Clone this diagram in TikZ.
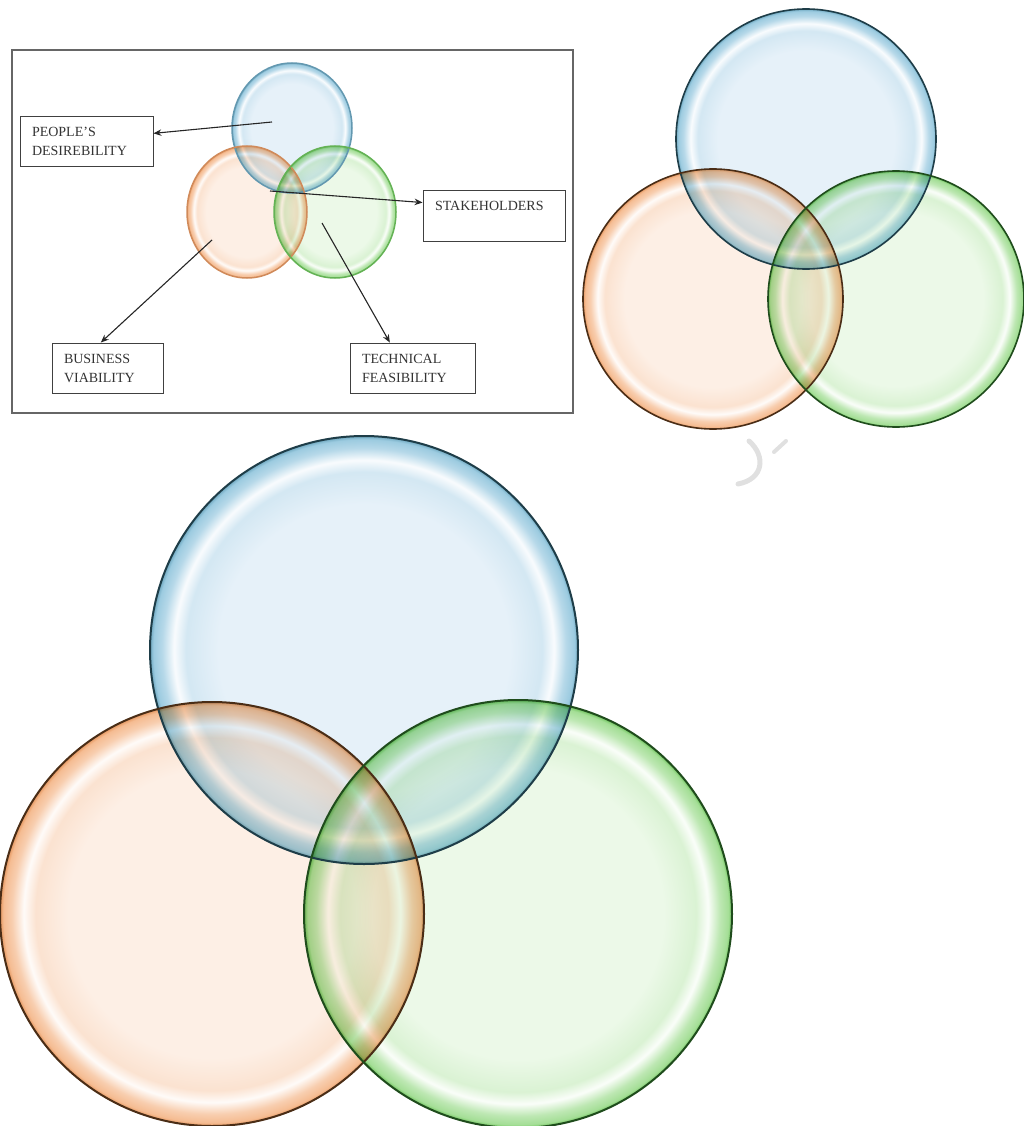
\documentclass[tikz,border=0pt]{standalone}
\usepackage{fontspec}
\setmainfont{Liberation Serif}
\usetikzlibrary{arrows.meta,calc}
\colorlet{bubA}{white}\colorlet{bubB}{white}\colorlet{bubC}{white}
\pgfdeclareradialshading[bubA,bubB,bubC]{bubble}{\pgfpointorigin}{color(0bp)=(bubA); color(17bp)=(bubA); color(20.8bp)=(bubA!75!bubB); color(22.2bp)=(white!75!bubA); color(23.6bp)=(bubA!35!bubB); color(24.6bp)=(bubB); color(25bp)=(bubC); color(50bp)=(bubC)}
\newcommand\bubset[3]{\colorlet{bubA}{#1}\colorlet{bubB}{#2}\colorlet{bubC}{#3}}
\definecolor{bA}{HTML}{E6F1F9}\definecolor{bB}{HTML}{9CCBE0}\definecolor{bC}{HTML}{6FA8C0}
\definecolor{oA}{HTML}{FDEFE5}\definecolor{oB}{HTML}{F5BC92}\definecolor{oC}{HTML}{E59760}
\definecolor{gA}{HTML}{ECF9E8}\definecolor{gB}{HTML}{A4DE96}\definecolor{gC}{HTML}{6CC25A}
\definecolor{bO}{HTML}{1E3D48}\definecolor{oO}{HTML}{4A2D16}\definecolor{gO}{HTML}{1F4C1C}
\definecolor{bS}{HTML}{6398B0}\definecolor{oS}{HTML}{D08A5A}\definecolor{gS}{HTML}{64B255}
\begin{document}
\begin{tikzpicture}[x=1pt,y=-1pt,
  bub/.style={shading=bubble, blend mode=multiply},
  lbl/.style={draw=black!75, line width=0.9pt, minimum height=50pt, align=left,
    text=black!80, font=\fontsize{14}{19}\selectfont, inner xsep=12pt, inner ysep=0pt},
  arr/.style={draw=black!85, line width=1.1pt, -{Stealth[length=8pt,width=6.5pt]}}]
\useasboundingbox (0,0) rectangle (1023,1126);

% ---------- bottom large Venn ----------
\bubset{bA}{bB}{bC}\shade[bub] (364,650) circle (214pt);
\bubset{oA}{oB}{oC}\shade[bub] (212,914) circle (212pt);
\bubset{gA}{gB}{gC}\shade[bub] (518,914) circle (214pt);
\draw[bO, line width=2pt] (364,650) circle (214pt);
\draw[oO, line width=2pt] (212,914) circle (212pt);
\draw[gO, line width=2pt] (518,914) circle (214pt);

% ---------- top right Venn ----------
\bubset{bA}{bB}{bC}\shade[bub] (806,139) circle (130pt);
\bubset{oA}{oB}{oC}\shade[bub] (713,299) circle (130pt);
\bubset{gA}{gB}{gC}\shade[bub] (896,299) circle (128pt);
\draw[bO, line width=1.6pt] (806,139) circle (130pt);
\draw[oO, line width=1.6pt] (713,299) circle (130pt);
\draw[gO, line width=1.6pt] (896,299) circle (128pt);

% ---------- top left labelled diagram ----------
\node[draw=black!60, line width=1.2pt, minimum width=561pt, minimum height=363pt, inner sep=0pt] (frame) at (292.5,231.5) {};

\bubset{bA}{bB}{bC}\shade[bub] (292,128) ellipse [x radius=60pt, y radius=65pt];
\bubset{oA}{oB}{oC}\shade[bub] (247,212) ellipse [x radius=60pt, y radius=66pt];
\bubset{gA}{gB}{gC}\shade[bub] (335,212) ellipse [x radius=61pt, y radius=66pt];
\draw[bS, line width=1.5pt] (292,128) ellipse [x radius=60pt, y radius=65pt];
\draw[oS, line width=1.5pt] (247,212) ellipse [x radius=60pt, y radius=66pt];
\draw[gS, line width=1.5pt] (335,212) ellipse [x radius=61pt, y radius=66pt];

\node[lbl, text width=109pt] (pd) at (86.5,141) {PEOPLE'S\\DESIREBILITY};
\node[lbl, text width=118pt, minimum height=51pt] (st) at (494,215.5) {STAKEHOLDERS\\\mbox{}};
\node[lbl, text width=87pt] (bv) at (107.5,368) {BUSINESS\\VIABILITY};
\node[lbl, text width=101pt] (tf) at (412.5,368) {TECHNICAL\\FEASIBILITY};

\coordinate (cpd) at (272,122);
\coordinate (cst) at (270,191);
\coordinate (cbv) at (212,240);
\coordinate (ctf) at (322,223);
\draw[arr] (cpd) -- ($(pd.north east)!0.35!(pd.south east)$);
\draw[arr] (cst) -- ($(st.north west)!0.25!(st.south west)$);
\draw[arr] (cbv) -- ($(bv.north west)!0.44!(bv.north east)$);
\draw[arr] (ctf) -- ($(tf.north west)!0.32!(tf.north east)$);

% faint watermark strokes
\draw[black!12, line width=5pt, line cap=round] (749,441) .. controls (766,456) and (764,479) .. (738,484);
\draw[black!12, line width=4pt, line cap=round] (774,452) -- (786,441);
\end{tikzpicture}
\end{document}
